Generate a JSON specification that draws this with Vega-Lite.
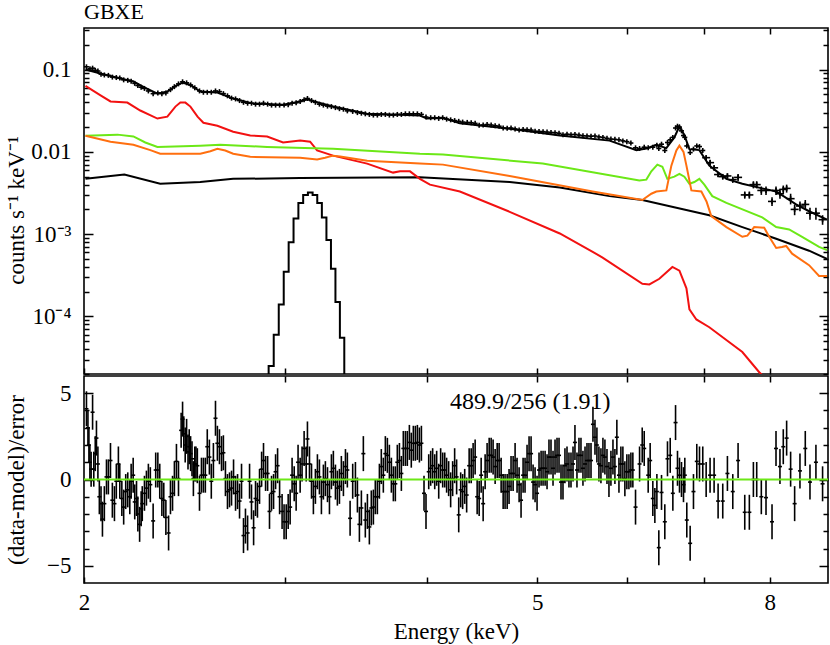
{
  "$schema": "https://vega.github.io/schema/vega-lite/v6.json",
  "background": "white",
  "padding": {"left": 4, "top": 0, "right": 1, "bottom": 0},
  "spacing": -2,
  "config": {
    "font": "Liberation Serif",
    "view": {"stroke": "black", "strokeWidth": 1.6},
    "axis": {"domain": false, "grid": false, "labelFont": "Liberation Serif", "labelFontSize": 23, "labelColor": "black", "titleFont": "Liberation Serif", "titleFontSize": 23, "titleFontWeight": "normal", "titleColor": "black", "tickColor": "black", "tickWidth": 1.5, "labelOverlap": false, "labelFlush": false},
    "title": {"font": "Liberation Serif", "fontSize": 22, "fontWeight": "normal", "color": "black"}
  },
  "datasets": {
    "model": [
      {"c":"tot","e":2.006,"y":0.1},{"c":"tot","e":2.068,"y":0.0894},{"c":"tot","e":2.153,"y":0.078},{"c":"tot","e":2.21,"y":0.0715},{"c":"tot","e":2.264,"y":0.06},{"c":"tot","e":2.32,"y":0.051},{"c":"tot","e":2.367,"y":0.054},{"c":"tot","e":2.406,"y":0.063},{"c":"tot","e":2.44,"y":0.0695},{"c":"tot","e":2.48,"y":0.065},{"c":"tot","e":2.53,"y":0.054},{"c":"tot","e":2.619,"y":0.0525},{"c":"tot","e":2.704,"y":0.0444},{"c":"tot","e":2.816,"y":0.0386},{"c":"tot","e":2.991,"y":0.0375},{"c":"tot","e":3.096,"y":0.041},{"c":"tot","e":3.14,"y":0.0435},{"c":"tot","e":3.204,"y":0.04},{"c":"tot","e":3.309,"y":0.0355},{"c":"tot","e":3.545,"y":0.029},{"c":"tot","e":3.789,"y":0.0283},{"c":"tot","e":3.944,"y":0.0276},{"c":"tot","e":4.0,"y":0.0254},{"c":"tot","e":4.132,"y":0.026},{"c":"tot","e":4.276,"y":0.0222},{"c":"tot","e":4.729,"y":0.0191},{"c":"tot","e":5.233,"y":0.0158},{"c":"tot","e":5.787,"y":0.0137},{"c":"tot","e":6.11,"y":0.0105},{"c":"tot","e":6.234,"y":0.011},{"c":"tot","e":6.361,"y":0.0122},{"c":"tot","e":6.491,"y":0.0111},{"c":"tot","e":6.597,"y":0.015},{"c":"tot","e":6.665,"y":0.0205},{"c":"tot","e":6.732,"y":0.016},{"c":"tot","e":6.801,"y":0.0108},{"c":"tot","e":6.939,"y":0.0105},{"c":"tot","e":7.08,"y":0.0068},{"c":"tot","e":7.329,"y":0.0047},{"c":"tot","e":7.569,"y":0.0041},{"c":"tot","e":7.879,"y":0.0036},{"c":"tot","e":8.105,"y":0.0033},{"c":"tot","e":8.438,"y":0.0023},{"c":"tot","e":8.662,"y":0.0019},{"c":"tot","e":8.983,"y":0.0015},
      {"c":"cont","e":2.006,"y":0.0047},{"c":"cont","e":2.17,"y":0.0053},{"c":"cont","e":2.333,"y":0.0041},{"c":"cont","e":2.53,"y":0.0043},{"c":"cont","e":2.704,"y":0.0047},{"c":"cont","e":3.096,"y":0.0048},{"c":"cont","e":3.944,"y":0.0049},{"c":"cont","e":4.729,"y":0.0043},{"c":"cont","e":5.233,"y":0.0037},{"c":"cont","e":5.787,"y":0.0029},{"c":"cont","e":6.184,"y":0.0026},{"c":"cont","e":6.624,"y":0.0021},{"c":"cont","e":7.08,"y":0.0017},{"c":"cont","e":7.569,"y":0.00122},{"c":"cont","e":8.105,"y":0.00088},{"c":"cont","e":8.662,"y":0.00063},{"c":"cont","e":8.983,"y":0.0005},
      {"c":"red","e":2.006,"y":0.0634},{"c":"red","e":2.068,"y":0.0487},{"c":"red","e":2.11,"y":0.041},{"c":"red","e":2.183,"y":0.0397},{"c":"red","e":2.241,"y":0.0318},{"c":"red","e":2.32,"y":0.0254},{"c":"red","e":2.367,"y":0.0268},{"c":"red","e":2.406,"y":0.0355},{"c":"red","e":2.43,"y":0.0397},{"c":"red","e":2.455,"y":0.0397},{"c":"red","e":2.48,"y":0.0355},{"c":"red","e":2.516,"y":0.0268},{"c":"red","e":2.546,"y":0.0226},{"c":"red","e":2.619,"y":0.0208},{"c":"red","e":2.704,"y":0.0176},{"c":"red","e":2.799,"y":0.0158},{"c":"red","e":2.896,"y":0.0154},{"c":"red","e":2.991,"y":0.013},{"c":"red","e":3.096,"y":0.0137},{"c":"red","e":3.159,"y":0.0133},{"c":"red","e":3.204,"y":0.0104},{"c":"red","e":3.309,"y":0.009},{"c":"red","e":3.545,"y":0.0072},{"c":"red","e":3.736,"y":0.0056},{"c":"red","e":3.789,"y":0.0058},{"c":"red","e":3.866,"y":0.0058},{"c":"red","e":3.944,"y":0.0047},{"c":"red","e":4.025,"y":0.004},{"c":"red","e":4.276,"y":0.0033},{"c":"red","e":4.729,"y":0.00187},{"c":"red","e":5.233,"y":0.00102},{"c":"red","e":5.593,"y":0.00061},{"c":"red","e":5.706,"y":0.00052},{"c":"red","e":6.184,"y":0.00025},{"c":"red","e":6.272,"y":0.000245},{"c":"red","e":6.4,"y":0.000287},{"c":"red","e":6.571,"y":0.0004},{"c":"red","e":6.665,"y":0.00036},{"c":"red","e":6.76,"y":0.00022},{"c":"red","e":6.801,"y":0.000122},{"c":"red","e":6.897,"y":0.000092},{"c":"red","e":7.08,"y":0.000074},{"c":"red","e":7.569,"y":0.000037},{"c":"red","e":7.832,"y":0.000021},{"c":"red","e":7.991,"y":0.000016},
      {"c":"green","e":2.006,"y":0.0157},{"c":"green","e":2.14,"y":0.0162},{"c":"green","e":2.21,"y":0.0154},{"c":"green","e":2.264,"y":0.013},{"c":"green","e":2.32,"y":0.0115},{"c":"green","e":2.53,"y":0.0119},{"c":"green","e":2.634,"y":0.0122},{"c":"green","e":2.896,"y":0.0115},{"c":"green","e":3.309,"y":0.0109},{"c":"green","e":3.944,"y":0.0095},{"c":"green","e":4.132,"y":0.0093},{"c":"green","e":5.056,"y":0.0072},{"c":"green","e":6.147,"y":0.0045},{"c":"green","e":6.234,"y":0.0046},{"c":"green","e":6.297,"y":0.0058},{"c":"green","e":6.374,"y":0.007},{"c":"green","e":6.439,"y":0.0066},{"c":"green","e":6.504,"y":0.0047},{"c":"green","e":6.597,"y":0.005},{"c":"green","e":6.665,"y":0.0054},{"c":"green","e":6.732,"y":0.005},{"c":"green","e":6.801,"y":0.0041},{"c":"green","e":6.869,"y":0.0043},{"c":"green","e":6.939,"y":0.0047},{"c":"green","e":7.009,"y":0.004},{"c":"green","e":7.123,"y":0.0029},{"c":"green","e":7.329,"y":0.0024},{"c":"green","e":7.879,"y":0.0016},{"c":"green","e":8.105,"y":0.00122},{"c":"green","e":8.32,"y":0.00114},{"c":"green","e":8.541,"y":0.00093},{"c":"green","e":8.839,"y":0.0007},{"c":"green","e":8.983,"y":0.00064},
      {"c":"orange","e":2.006,"y":0.0157},{"c":"orange","e":2.11,"y":0.0133},{"c":"orange","e":2.21,"y":0.0122},{"c":"orange","e":2.287,"y":0.0105},{"c":"orange","e":2.333,"y":0.0095},{"c":"orange","e":2.53,"y":0.0095},{"c":"orange","e":2.582,"y":0.0102},{"c":"orange","e":2.619,"y":0.0109},{"c":"orange","e":2.661,"y":0.0104},{"c":"orange","e":2.704,"y":0.0095},{"c":"orange","e":2.799,"y":0.0087},{"c":"orange","e":3.096,"y":0.0085},{"c":"orange","e":3.204,"y":0.0081},{"c":"orange","e":3.256,"y":0.0085},{"c":"orange","e":3.309,"y":0.009},{"c":"orange","e":3.357,"y":0.0088},{"c":"orange","e":3.545,"y":0.0078},{"c":"orange","e":3.944,"y":0.0072},{"c":"orange","e":4.132,"y":0.007},{"c":"orange","e":4.729,"y":0.0051},{"c":"orange","e":5.593,"y":0.0033},{"c":"orange","e":6.184,"y":0.0026},{"c":"orange","e":6.297,"y":0.0031},{"c":"orange","e":6.361,"y":0.0033},{"c":"orange","e":6.491,"y":0.0034},{"c":"orange","e":6.557,"y":0.0068},{"c":"orange","e":6.624,"y":0.0104},{"c":"orange","e":6.665,"y":0.0119},{"c":"orange","e":6.72,"y":0.01},{"c":"orange","e":6.76,"y":0.0068},{"c":"orange","e":6.828,"y":0.0034},{"c":"orange","e":6.967,"y":0.0033},{"c":"orange","e":7.04,"y":0.0025},{"c":"orange","e":7.108,"y":0.00166},{"c":"orange","e":7.329,"y":0.00122},{"c":"orange","e":7.569,"y":0.00093},{"c":"orange","e":7.646,"y":0.00096},{"c":"orange","e":7.753,"y":0.00122},{"c":"orange","e":7.911,"y":0.0012},{"c":"orange","e":7.991,"y":0.00093},{"c":"orange","e":8.105,"y":0.00068},{"c":"orange","e":8.2,"y":0.0007},{"c":"orange","e":8.27,"y":0.00072},{"c":"orange","e":8.37,"y":0.00058},{"c":"orange","e":8.662,"y":0.00042},{"c":"orange","e":8.839,"y":0.00031},{"c":"orange","e":8.983,"y":0.00031}
    ],
    "gauss": [
      {"e":2.89,"y":0.000008},{"e":2.92,"y":0.000025},{"e":2.95,"y":0.00006},{"e":2.98,"y":0.00014},{"e":3.01,"y":0.00035},{"e":3.04,"y":0.0008},{"e":3.07,"y":0.00155},{"e":3.1,"y":0.0024},{"e":3.13,"y":0.003},{"e":3.16,"y":0.0032},{"e":3.19,"y":0.003},{"e":3.22,"y":0.0024},{"e":3.25,"y":0.0016},{"e":3.28,"y":0.00085},{"e":3.31,"y":0.00038},{"e":3.34,"y":0.00015},{"e":3.37,"y":0.000055},{"e":3.4,"y":0.000018},{"e":3.43,"y":0.000006}
    ],
    "spec": [
      {"e":2.010,"y":0.108},{"e":2.024,"y":0.102},{"e":2.035,"y":0.104},{"e":2.046,"y":0.098},{"e":2.057,"y":0.096},{"e":2.070,"y":0.088},{"e":2.084,"y":0.086},{"e":2.101,"y":0.085},{"e":2.118,"y":0.081},{"e":2.135,"y":0.080},{"e":2.150,"y":0.079},{"e":2.167,"y":0.075},{"e":2.185,"y":0.074},{"e":2.200,"y":0.072},{"e":2.216,"y":0.068},{"e":2.230,"y":0.064},{"e":2.245,"y":0.061},{"e":2.260,"y":0.059},{"e":2.278,"y":0.055},{"e":2.300,"y":0.051},{"e":2.322,"y":0.052},{"e":2.341,"y":0.051},{"e":2.360,"y":0.052},{"e":2.382,"y":0.057},{"e":2.401,"y":0.062},{"e":2.421,"y":0.067},{"e":2.441,"y":0.071},{"e":2.461,"y":0.069},{"e":2.481,"y":0.065},{"e":2.502,"y":0.060},{"e":2.526,"y":0.055},{"e":2.546,"y":0.053},{"e":2.566,"y":0.053},{"e":2.587,"y":0.053},{"e":2.609,"y":0.055},{"e":2.630,"y":0.054},{"e":2.651,"y":0.051},{"e":2.673,"y":0.048},{"e":2.695,"y":0.045},{"e":2.717,"y":0.044},{"e":2.739,"y":0.042},{"e":2.761,"y":0.040},{"e":2.784,"y":0.039},{"e":2.806,"y":0.039},{"e":2.829,"y":0.038},{"e":2.852,"y":0.038},{"e":2.875,"y":0.039},{"e":2.899,"y":0.038},{"e":2.922,"y":0.037},{"e":2.946,"y":0.037},{"e":2.970,"y":0.037},{"e":2.997,"y":0.037},{"e":3.022,"y":0.0375},{"e":3.046,"y":0.039},{"e":3.071,"y":0.0395},{"e":3.096,"y":0.041},{"e":3.121,"y":0.043},{"e":3.142,"y":0.0445},{"e":3.168,"y":0.042},{"e":3.193,"y":0.040},{"e":3.219,"y":0.038},{"e":3.245,"y":0.037},{"e":3.272,"y":0.036},{"e":3.298,"y":0.0355},{"e":3.325,"y":0.0345},{"e":3.352,"y":0.0335},{"e":3.379,"y":0.033},{"e":3.406,"y":0.0315},{"e":3.443,"y":0.031},{"e":3.476,"y":0.030},{"e":3.504,"y":0.0295},{"e":3.532,"y":0.029},{"e":3.561,"y":0.0285},{"e":3.590,"y":0.028},{"e":3.619,"y":0.028},{"e":3.648,"y":0.0285},{"e":3.678,"y":0.0285},{"e":3.708,"y":0.028},{"e":3.738,"y":0.028},{"e":3.768,"y":0.0285},{"e":3.799,"y":0.0285},{"e":3.830,"y":0.029},{"e":3.861,"y":0.029},{"e":3.892,"y":0.029},{"e":3.924,"y":0.029},{"e":3.956,"y":0.0285},{"e":3.993,"y":0.0265},{"e":4.031,"y":0.026},{"e":4.064,"y":0.026},{"e":4.097,"y":0.0255},{"e":4.130,"y":0.026},{"e":4.163,"y":0.025},{"e":4.197,"y":0.0245},{"e":4.231,"y":0.024},{"e":4.266,"y":0.0235},{"e":4.300,"y":0.023},{"e":4.340,"y":0.0228},{"e":4.375,"y":0.0226},{"e":4.410,"y":0.0222},{"e":4.446,"y":0.021},{"e":4.482,"y":0.0212},{"e":4.518,"y":0.0215},{"e":4.555,"y":0.0212},{"e":4.592,"y":0.0208},{"e":4.629,"y":0.0205},{"e":4.667,"y":0.0195},{"e":4.705,"y":0.0193},{"e":4.742,"y":0.0195},{"e":4.781,"y":0.019},{"e":4.820,"y":0.0185},{"e":4.859,"y":0.0187},{"e":4.898,"y":0.0186},{"e":4.938,"y":0.0184},{"e":4.978,"y":0.0178},{"e":5.018,"y":0.0177},{"e":5.059,"y":0.0176},{"e":5.100,"y":0.0174},{"e":5.141,"y":0.0172},{"e":5.183,"y":0.0171},{"e":5.225,"y":0.0168},{"e":5.267,"y":0.0162},{"e":5.310,"y":0.0164},{"e":5.353,"y":0.0162},{"e":5.396,"y":0.0163},{"e":5.440,"y":0.016},{"e":5.484,"y":0.0157},{"e":5.529,"y":0.0156},{"e":5.574,"y":0.0155},{"e":5.619,"y":0.0156},{"e":5.664,"y":0.0152},{"e":5.710,"y":0.015},{"e":5.757,"y":0.0146},{"e":5.803,"y":0.0143},{"e":5.850,"y":0.0142},{"e":5.898,"y":0.014},{"e":5.945,"y":0.0136},{"e":5.993,"y":0.0133},{"e":6.042,"y":0.0128},{"e":6.099,"y":0.0112},{"e":6.149,"y":0.011},{"e":6.207,"y":0.0114},{"e":6.257,"y":0.0112},{"e":6.316,"y":0.0114},{"e":6.368,"y":0.012},{"e":6.393,"y":0.011},{"e":6.428,"y":0.0124},{"e":6.471,"y":0.0104},{"e":6.506,"y":0.013},{"e":6.542,"y":0.014},{"e":6.577,"y":0.015},{"e":6.613,"y":0.0195},{"e":6.639,"y":0.0205},{"e":6.666,"y":0.02},{"e":6.693,"y":0.018},{"e":6.720,"y":0.0158},{"e":6.738,"y":0.015},{"e":6.765,"y":0.0118},{"e":6.811,"y":0.0098},{"e":6.857,"y":0.0108},{"e":6.903,"y":0.0118},{"e":6.941,"y":0.0116},{"e":6.987,"y":0.0104},
      {"e":7.035,"y":0.0085,"lo":0.0079,"hi":0.0091},{"e":7.091,"y":0.0074,"lo":0.0068,"hi":0.008},{"e":7.149,"y":0.0064,"lo":0.0059,"hi":0.0069},{"e":7.207,"y":0.0053,"lo":0.0049,"hi":0.0057},{"e":7.275,"y":0.005,"lo":0.0046,"hi":0.0054},{"e":7.344,"y":0.0051,"lo":0.0047,"hi":0.0055},{"e":7.424,"y":0.0046,"lo":0.0042,"hi":0.005},{"e":7.504,"y":0.0049,"lo":0.0044,"hi":0.0054},{"e":7.606,"y":0.003,"lo":0.0027,"hi":0.0033},{"e":7.677,"y":0.003,"lo":0.0027,"hi":0.0033},{"e":7.74,"y":0.004,"lo":0.0036,"hi":0.0044},{"e":7.792,"y":0.004,"lo":0.0036,"hi":0.0044},{"e":7.865,"y":0.0034,"lo":0.003,"hi":0.0038},{"e":7.94,"y":0.0034,"lo":0.003,"hi":0.0038},{"e":8.037,"y":0.0025,"lo":0.0022,"hi":0.0028},{"e":8.102,"y":0.0034,"lo":0.003,"hi":0.0038},{"e":8.167,"y":0.0031,"lo":0.0027,"hi":0.0035},{"e":8.222,"y":0.0035,"lo":0.0031,"hi":0.0039},{"e":8.278,"y":0.0036,"lo":0.0032,"hi":0.004},{"e":8.345,"y":0.0027,"lo":0.0023,"hi":0.0031},{"e":8.413,"y":0.002,"lo":0.0017,"hi":0.0023},{"e":8.504,"y":0.0022,"lo":0.0019,"hi":0.0025},{"e":8.596,"y":0.0023,"lo":0.002,"hi":0.0026},{"e":8.678,"y":0.0018,"lo":0.0015,"hi":0.0021},{"e":8.783,"y":0.0018,"lo":0.0015,"hi":0.0021},{"e":8.902,"y":0.0015,"lo":0.0013,"hi":0.0017}
    ],
    "resid": [
      {"e":2.010,"r":4.1},{"e":2.016,"r":3.0},{"e":2.020,"r":2.0},{"e":2.024,"r":1.0},{"e":2.029,"r":0.6},{"e":2.035,"r":3.9},{"e":2.040,"r":0.6},{"e":2.046,"r":1.5},{"e":2.051,"r":2.4},{"e":2.057,"r":0.9},{"e":2.063,"r":-1.0},{"e":2.070,"r":-1.4},{"e":2.076,"r":-2.3},{"e":2.084,"r":-1.4},{"e":2.093,"r":0.15},{"e":2.101,"r":0.15},{"e":2.110,"r":1.1},{"e":2.118,"r":-1.2},{"e":2.127,"r":-1.4},{"e":2.135,"r":-0.1},{"e":2.144,"r":0.9},{"e":2.150,"r":-0.1},{"e":2.159,"r":-1.1},{"e":2.167,"r":-1.6},{"e":2.176,"r":-0.7},{"e":2.185,"r":-0.6},{"e":2.194,"r":-1.0},{"e":2.200,"r":-0.1},{"e":2.209,"r":0.25},{"e":2.216,"r":-1.3},{"e":2.224,"r":-1.1},{"e":2.230,"r":-2.0},{"e":2.238,"r":-2.6},{"e":2.245,"r":-1.7},{"e":2.250,"r":-1.4},{"e":2.260,"r":-0.8},{"e":2.269,"r":-0.5},{"e":2.278,"r":-0.1},{"e":2.287,"r":-0.3},{"e":2.300,"r":-2.4},{"e":2.312,"r":0.55},{"e":2.322,"r":0.55},{"e":2.331,"r":-0.1},{"e":2.341,"r":-1.1},{"e":2.350,"r":-1.2},{"e":2.360,"r":-2.2},{"e":2.373,"r":-3.1},{"e":2.382,"r":-1.0},{"e":2.392,"r":-0.8},{"e":2.401,"r":0.05},{"e":2.411,"r":1.05},{"e":2.421,"r":0.05},{"e":2.434,"r":2.85},{"e":2.441,"r":3.5},{"e":2.447,"r":2.65},{"e":2.454,"r":2.0},{"e":2.461,"r":2.5},{"e":2.468,"r":1.6},{"e":2.474,"r":1.9},{"e":2.481,"r":1.5},{"e":2.488,"r":1.2},{"e":2.495,"r":0.05},{"e":2.502,"r":0.9},{"e":2.508,"r":0.9},{"e":2.515,"r":0.8},{"e":2.526,"r":-0.8},{"e":2.536,"r":0.25},{"e":2.546,"r":0.25},{"e":2.556,"r":0.25},{"e":2.566,"r":1.9},{"e":2.577,"r":1.3},{"e":2.587,"r":-0.1},{"e":2.598,"r":1.1},{"e":2.609,"r":3.55},{"e":2.619,"r":2.1},{"e":2.630,"r":1.9},{"e":2.641,"r":1.5},{"e":2.651,"r":1.55},{"e":2.662,"r":0.05},{"e":2.673,"r":-0.7},{"e":2.684,"r":-0.6},{"e":2.695,"r":-0.5},{"e":2.706,"r":0.15},{"e":2.717,"r":-0.8},{"e":2.728,"r":-0.7},{"e":2.739,"r":-1.25},{"e":2.750,"r":-0.1},{"e":2.761,"r":-3.25},{"e":2.772,"r":-2.7},{"e":2.784,"r":-3.1},{"e":2.795,"r":-0.1},{"e":2.806,"r":-1.3},{"e":2.818,"r":-2.8},{"e":2.829,"r":-1.1},{"e":2.840,"r":-1.2},{"e":2.852,"r":-0.4},{"e":2.864,"r":0.6},{"e":2.875,"r":1.1},{"e":2.887,"r":0.35},{"e":2.899,"r":0.35},{"e":2.910,"r":-1.85},{"e":2.922,"r":-0.8},{"e":2.934,"r":-0.7},{"e":2.946,"r":0.45},{"e":2.958,"r":0.8},{"e":2.970,"r":-1.0},
      {"e":2.985,"r":-1.85},{"e":2.997,"r":-2.45},{"e":3.010,"r":-2.45},{"e":3.022,"r":-1.85},{"e":3.034,"r":-1.6},{"e":3.046,"r":0.25},{"e":3.059,"r":-0.25},{"e":3.071,"r":-0.8},{"e":3.083,"r":1.0},{"e":3.096,"r":0.25},{"e":3.108,"r":0.9},{"e":3.121,"r":1.8},{"e":3.134,"r":0.9},{"e":3.142,"r":2.35},{"e":3.155,"r":0.9},{"e":3.168,"r":-0.1},{"e":3.180,"r":-1.0},{"e":3.193,"r":-0.4},{"e":3.206,"r":0.45},{"e":3.219,"r":0.15},{"e":3.232,"r":-1.0},{"e":3.245,"r":-0.15},{"e":3.258,"r":0.05},{"e":3.272,"r":-0.3},{"e":3.285,"r":-1.0},{"e":3.298,"r":0.45},{"e":3.311,"r":0.65},{"e":3.325,"r":-0.15},{"e":3.338,"r":-0.5},{"e":3.352,"r":-0.4},{"e":3.365,"r":0.35},{"e":3.379,"r":0.05},{"e":3.393,"r":0.75},{"e":3.406,"r":0.55},{"e":3.425,"r":-2.25},{"e":3.443,"r":-0.1},{"e":3.462,"r":0},{"e":3.476,"r":-0.9},{"e":3.490,"r":-2.6},{"e":3.504,"r":-1.65},{"e":3.518,"r":1.5},{"e":3.532,"r":-2.35},{"e":3.547,"r":-1.85},{"e":3.561,"r":-2.75},{"e":3.575,"r":-1.65},{"e":3.590,"r":-1.6},{"e":3.604,"r":-1.0},{"e":3.619,"r":-1.0},{"e":3.634,"r":-0.1},{"e":3.648,"r":0.75},{"e":3.663,"r":0.25},{"e":3.678,"r":1.5},{"e":3.693,"r":1.4},{"e":3.708,"r":1.0},{"e":3.723,"r":0.25},{"e":3.738,"r":-0.25},{"e":3.753,"r":-0.25},{"e":3.768,"r":1.0},{"e":3.784,"r":1.1},{"e":3.799,"r":0.35},{"e":3.814,"r":1.8},{"e":3.830,"r":1.8},{"e":3.845,"r":1.8},{"e":3.861,"r":2.15},{"e":3.876,"r":1.7},{"e":3.892,"r":2.1},{"e":3.908,"r":2.1},{"e":3.924,"r":2.15},{"e":3.940,"r":2.0},{"e":3.956,"r":2.1},{"e":3.977,"r":-0.8},{"e":3.993,"r":-1.85},{"e":4.015,"r":0.45},{"e":4.031,"r":0.65},{"e":4.047,"r":0.8},{"e":4.064,"r":0.45},{"e":4.080,"r":0.65},{"e":4.097,"r":-0.1},{"e":4.113,"r":0.8},{"e":4.130,"r":0.55},{"e":4.147,"r":0.55},{"e":4.163,"r":0.25},{"e":4.180,"r":0.05},{"e":4.197,"r":-0.6},{"e":4.214,"r":0.05},{"e":4.231,"r":0.8},{"e":4.248,"r":0.15},{"e":4.266,"r":-2.05},{"e":4.283,"r":-0.6},{"e":4.300,"r":-0.7},{"e":4.318,"r":-0.4},{"e":4.335,"r":-0.9},
      {"e":4.357,"r":0.8},{"e":4.375,"r":0.8},{"e":4.392,"r":1.1},{"e":4.410,"r":1.3},{"e":4.428,"r":-1.0},{"e":4.446,"r":-1.1},{"e":4.464,"r":0.25},{"e":4.482,"r":-1.4},{"e":4.500,"r":0.45},{"e":4.518,"r":1.1},{"e":4.537,"r":1.4},{"e":4.555,"r":1.4},{"e":4.573,"r":1.3},{"e":4.592,"r":0.75},{"e":4.611,"r":1.1},{"e":4.629,"r":1.1},{"e":4.648,"r":0.25},{"e":4.667,"r":-0.7},{"e":4.685,"r":-0.7},{"e":4.705,"r":-0.7},{"e":4.723,"r":-0.4},{"e":4.742,"r":0.35},{"e":4.762,"r":0.35},{"e":4.781,"r":1.1},{"e":4.800,"r":0.25},{"e":4.820,"r":-0.3},{"e":4.839,"r":-1.2},{"e":4.859,"r":0.25},{"e":4.878,"r":0.25},{"e":4.898,"r":1.0},{"e":4.918,"r":1.5},{"e":4.938,"r":1.5},{"e":4.958,"r":-0.15},{"e":4.978,"r":-0.3},{"e":4.998,"r":-0.8},{"e":5.018,"r":0.55},{"e":5.039,"r":0.65},{"e":5.059,"r":0.65},{"e":5.080,"r":0.65},{"e":5.100,"r":0.45},{"e":5.120,"r":1.3},{"e":5.141,"r":1.3},{"e":5.162,"r":0.65},{"e":5.183,"r":1.3},{"e":5.204,"r":1.4},{"e":5.225,"r":1.4},{"e":5.246,"r":-0.15},{"e":5.267,"r":-0.15},{"e":5.288,"r":0.8},{"e":5.310,"r":0.9},{"e":5.331,"r":0.55},{"e":5.353,"r":0.55},{"e":5.375,"r":0.9},{"e":5.396,"r":2.15},{"e":5.418,"r":0.55},{"e":5.440,"r":1.4},{"e":5.462,"r":1.4},{"e":5.484,"r":0.65},{"e":5.507,"r":0.9},{"e":5.529,"r":1.1},{"e":5.551,"r":1.1},{"e":5.574,"r":1.1},{"e":5.596,"r":3.2},{"e":5.619,"r":2.45},{"e":5.641,"r":2.0},{"e":5.664,"r":0.9},{"e":5.687,"r":0.8},{"e":5.710,"r":1.4},{"e":5.733,"r":1.3},{"e":5.757,"r":0.75},{"e":5.780,"r":0},{"e":5.803,"r":0.65},{"e":5.827,"r":1.3},{"e":5.850,"r":0.75},{"e":5.873,"r":2.45},{"e":5.898,"r":0.25},{"e":5.921,"r":0.9},{"e":5.945,"r":0.9},{"e":5.969,"r":0.05},{"e":5.993,"r":0.45},{"e":6.018,"r":0.45},{"e":6.042,"r":0.55},{"e":6.066,"r":0.55},{"e":6.099,"r":-1.6},{"e":6.149,"r":0.9},{"e":6.182,"r":2.0},{"e":6.207,"r":1.8},{"e":6.257,"r":0.25},{"e":6.282,"r":1.1},
      {"e":6.316,"r":-1.1},{"e":6.342,"r":-1.5},{"e":6.368,"r":-0.7},{"e":6.393,"r":-3.95},{"e":6.428,"r":-0.75},{"e":6.471,"r":-2.45},{"e":6.506,"r":1.2},{"e":6.542,"r":1.4},{"e":6.577,"r":-0.8},{"e":6.613,"r":3.3},{"e":6.639,"r":0.65},{"e":6.666,"r":0.25},{"e":6.693,"r":0},{"e":6.720,"r":-0.3},{"e":6.738,"r":0.25},{"e":6.765,"r":-2.35},{"e":6.811,"r":-3.7},{"e":6.857,"r":-0.7},{"e":6.903,"r":1.05},{"e":6.941,"r":0.9},{"e":6.987,"r":0.9},{"e":7.035,"r":0},{"e":7.091,"r":0.25},{"e":7.149,"r":0.25},{"e":7.207,"r":-1.25},{"e":7.275,"r":-1.25},{"e":7.344,"r":0.35},{"e":7.424,"r":-0.7},{"e":7.504,"r":1.1},{"e":7.606,"r":-1.9},{"e":7.677,"r":-1.9},{"e":7.740,"r":0},{"e":7.792,"r":0},{"e":7.865,"r":-1.0},{"e":7.940,"r":-1.05},{"e":8.037,"r":-2.45},{"e":8.102,"r":1.8},{"e":8.167,"r":0.75},{"e":8.222,"r":1.9},{"e":8.278,"r":2.4},{"e":8.345,"r":0.6},{"e":8.413,"r":-1.4},{"e":8.504,"r":0.5},{"e":8.596,"r":1.8},{"e":8.678,"r":-0.15},{"e":8.783,"r":1.0},{"e":8.902,"r":-0.25}
    ]
  },
  "vconcat": [
    {
      "width": 744,
      "height": 346,
      "title": {"text": "GBXE", "anchor": "start", "frame": "group", "offset": 3},
      "resolve": {"axis": {"x": "independent", "y": "independent"}},
      "layer": [
        {
          "data": {"name": "spec"},
          "transform": [{"filter": "isValid(datum.lo)"}],
          "mark": {"type": "rule", "color": "black", "strokeWidth": 1.6, "clip": true},
          "encoding": {
            "x": {"field": "e", "type": "quantitative", "scale": {"type": "log", "domain": [2, 9], "nice": false}, "axis": null},
            "y": {"field": "lo", "type": "quantitative", "scale": {"type": "log", "domain": [0.00002, 0.32], "nice": false}, "axis": null},
            "y2": {"field": "hi"}
          }
        },
        {
          "data": {"name": "spec"},
          "mark": {"type": "tick", "orient": "vertical", "size": 5, "thickness": 1.6, "color": "black", "opacity": 1, "clip": true},
          "encoding": {
            "x": {"field": "e", "type": "quantitative", "scale": {"type": "log", "domain": [2, 9], "nice": false}, "axis": null},
            "y": {"field": "y", "type": "quantitative", "scale": {"type": "log", "domain": [0.00002, 0.32], "nice": false}, "axis": null}
          }
        },
        {
          "data": {"name": "spec"},
          "transform": [{"filter": "datum.e < 7"}],
          "mark": {"type": "tick", "orient": "horizontal", "size": 5, "thickness": 1.6, "color": "black", "opacity": 1, "clip": true},
          "encoding": {
            "x": {"field": "e", "type": "quantitative", "scale": {"type": "log", "domain": [2, 9], "nice": false}, "axis": null},
            "y": {"field": "y", "type": "quantitative", "scale": {"type": "log", "domain": [0.00002, 0.32], "nice": false}, "axis": null}
          }
        },
        {
          "data": {"name": "spec"},
          "transform": [{"filter": "datum.e >= 7"}],
          "mark": {"type": "tick", "orient": "horizontal", "size": 8, "thickness": 1.6, "color": "black", "opacity": 1, "clip": true},
          "encoding": {
            "x": {"field": "e", "type": "quantitative", "scale": {"type": "log", "domain": [2, 9], "nice": false}, "axis": null},
            "y": {"field": "y", "type": "quantitative", "scale": {"type": "log", "domain": [0.00002, 0.32], "nice": false}, "axis": null}
          }
        },
        {
          "data": {"name": "model"},
          "mark": {"type": "line", "strokeWidth": 2, "clip": true},
          "encoding": {
            "x": {"field": "e", "type": "quantitative", "scale": {"type": "log", "domain": [2, 9], "nice": false},
              "axis": {"orient": "bottom", "values": [2, 3, 4, 5, 6, 7, 8], "labels": false, "tickSize": -6, "title": null, "minExtent": 0, "maxExtent": 0}},
            "y": {"field": "y", "type": "quantitative", "scale": {"type": "log", "domain": [0.00002, 0.32], "nice": false},
              "axis": {"orient": "left",
                "values": [0.00002,0.00003,0.00004,0.00005,0.00006,0.00007,0.00008,0.00009,0.0001,0.0002,0.0003,0.0004,0.0005,0.0006,0.0007,0.0008,0.0009,0.001,0.002,0.003,0.004,0.005,0.006,0.007,0.008,0.009,0.01,0.02,0.03,0.04,0.05,0.06,0.07,0.08,0.09,0.1,0.2,0.3],
                "tickSize": {"condition": {"test": "datum.value == 0.1 || datum.value == 0.01 || datum.value == 0.001 || datum.value == 0.0001", "value": -9}, "value": -5},
                "labelFontSize": {"condition": {"test": "datum.value == 0.1 || datum.value == 0.01 || datum.value == 0.001 || datum.value == 0.0001", "value": 23}, "value": 0},
                "labelExpr": "datum.value == 0.1 ? '0.1' : datum.value == 0.01 ? '0.01' : datum.value == 0.001 ? '10⁻³' : datum.value == 0.0001 ? '10⁻⁴' : ''",
                "labelPadding": 22, "title": "counts s⁻¹ keV⁻¹", "titlePadding": 4, "titleY": 182, "minExtent": 52, "maxExtent": 52}},
            "color": {"field": "c", "type": "nominal", "scale": {"domain": ["tot", "cont", "red", "green", "orange"], "range": ["black", "black", "#f21111", "#6ce817", "#ff6f0f"]}, "legend": null},
            "order": {"field": "e", "type": "quantitative"}
          }
        },
        {
          "data": {"name": "gauss"},
          "mark": {"type": "line", "interpolate": "step", "color": "black", "strokeWidth": 2, "clip": true},
          "encoding": {
            "x": {"field": "e", "type": "quantitative", "scale": {"type": "log", "domain": [2, 9], "nice": false},
              "axis": {"orient": "top", "values": [3, 4, 5, 6, 7, 8], "labels": false, "tickSize": -6, "title": null, "minExtent": 0, "maxExtent": 0}},
            "y": {"field": "y", "type": "quantitative", "scale": {"type": "log", "domain": [0.00002, 0.32], "nice": false},
              "axis": {"orient": "right",
                "values": [0.00002,0.00003,0.00004,0.00005,0.00006,0.00007,0.00008,0.00009,0.0001,0.0002,0.0003,0.0004,0.0005,0.0006,0.0007,0.0008,0.0009,0.001,0.002,0.003,0.004,0.005,0.006,0.007,0.008,0.009,0.01,0.02,0.03,0.04,0.05,0.06,0.07,0.08,0.09,0.1,0.2,0.3],
                "tickSize": {"condition": {"test": "datum.value == 0.1 || datum.value == 0.01 || datum.value == 0.001 || datum.value == 0.0001", "value": -9}, "value": -5},
                "labels": false, "title": null, "minExtent": 0, "maxExtent": 0}}
          }
        }
      ]
    },
    {
      "width": 744,
      "height": 207,
      "resolve": {"axis": {"x": "independent", "y": "independent"}},
      "layer": [
        {
          "data": {"name": "resid"},
          "mark": {"type": "tick", "orient": "vertical", "size": 35, "thickness": 1.6, "color": "black", "opacity": 1, "clip": true},
          "encoding": {
            "x": {"field": "e", "type": "quantitative", "scale": {"type": "log", "domain": [2, 9], "nice": false},
              "axis": {"orient": "bottom", "values": [2, 3, 4, 5, 6, 7, 8], "tickSize": -6,
                "labelExpr": "datum.value == 2 || datum.value == 5 || datum.value == 8 ? datum.label : ''",
                "labelPadding": 14, "title": "Energy (keV)", "titlePadding": 6}},
            "y": {"field": "r", "type": "quantitative", "scale": {"domain": [-6, 6], "nice": false, "zero": false},
              "axis": {"orient": "left", "values": [-5, -4, -3, -2, -1, 0, 1, 2, 3, 4, 5],
                "tickSize": {"condition": {"test": "datum.value == 5 || datum.value == 0 || datum.value == -5", "value": -9}, "value": -5},
                "labelExpr": "datum.value == 5 ? '5' : datum.value == 0 ? '0' : datum.value == -5 ? '−5' : ''",
                "labelPadding": 22, "title": "(data-model)/error", "titlePadding": 4, "minExtent": 52, "maxExtent": 52}}
          }
        },
        {
          "data": {"name": "resid"},
          "mark": {"type": "tick", "orient": "horizontal", "size": 4, "thickness": 1.6, "color": "black", "opacity": 1, "clip": true},
          "encoding": {
            "x": {"field": "e", "type": "quantitative", "scale": {"type": "log", "domain": [2, 9], "nice": false},
              "axis": {"orient": "top", "values": [3, 4, 5, 6, 7, 8], "labels": false, "tickSize": -6, "title": null, "minExtent": 0, "maxExtent": 0}},
            "y": {"field": "r", "type": "quantitative", "scale": {"domain": [-6, 6], "nice": false, "zero": false},
              "axis": {"orient": "right", "values": [-5, -4, -3, -2, -1, 0, 1, 2, 3, 4, 5],
                "tickSize": {"condition": {"test": "datum.value == 5 || datum.value == 0 || datum.value == -5", "value": -9}, "value": -5},
                "labels": false, "title": null, "minExtent": 0, "maxExtent": 0}}
          }
        },
        {
          "data": {"values": [{"r": 0}]},
          "mark": {"type": "rule", "color": "#6ce817", "strokeWidth": 2},
          "encoding": {
            "y": {"field": "r", "type": "quantitative", "scale": {"domain": [-6, 6], "nice": false, "zero": false}, "axis": null}
          }
        },
        {
          "data": {"values": [{"e": 4.93, "r": 4.5, "t": "489.9/256 (1.91)"}]},
          "mark": {"type": "text", "font": "Liberation Serif", "fontSize": 24, "align": "center", "baseline": "middle", "color": "black"},
          "encoding": {
            "x": {"field": "e", "type": "quantitative", "scale": {"type": "log", "domain": [2, 9], "nice": false}, "axis": null},
            "y": {"field": "r", "type": "quantitative", "scale": {"domain": [-6, 6], "nice": false, "zero": false}, "axis": null},
            "text": {"field": "t"}
          }
        }
      ]
    }
  ]
}
